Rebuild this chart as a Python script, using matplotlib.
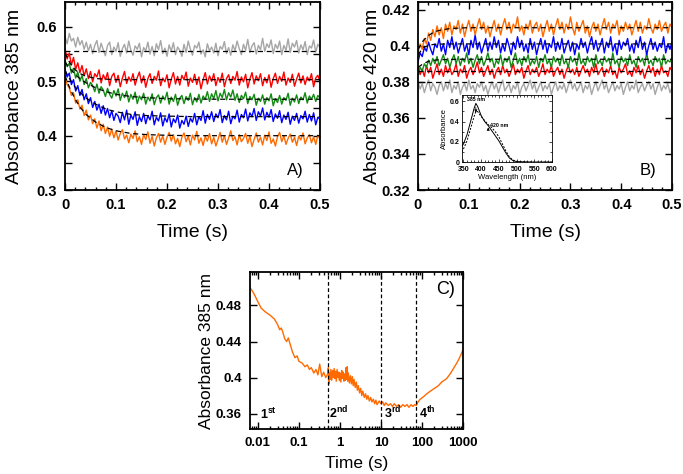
import numpy as np
import matplotlib
matplotlib.use('Agg')
import matplotlib.pyplot as plt
from matplotlib.ticker import MultipleLocator, FuncFormatter, LogLocator

plt.rcParams['font.family'] = ['Liberation Sans', 'DejaVu Sans']
plt.rcParams['mathtext.fontset'] = 'custom'
plt.rcParams['mathtext.rm'] = 'Liberation Sans'
plt.rcParams['mathtext.bf'] = 'Liberation Sans:bold'

# colours of the traces
c_gray = '#a6a6a6'
c_red = '#ff0000'
c_green = '#138a13'
c_blue = '#0000ff'
c_orange = '#ff6a00'

# ---- panel A : absorbance 385 nm, 0 - 0.5 s (equally spaced samples)
gray_a = [0.582, 0.569, 0.588, 0.574, 0.579, 0.563, 0.581, 0.567, 0.575, 0.559,
          0.572, 0.556, 0.568, 0.551, 0.566, 0.575, 0.553, 0.570, 0.558, 0.547,
          0.566, 0.572, 0.549, 0.563, 0.555, 0.571, 0.546, 0.560, 0.568, 0.552,
          0.574, 0.557, 0.548, 0.565, 0.559, 0.570, 0.545, 0.562, 0.556, 0.572,
          0.550, 0.564, 0.547, 0.569, 0.558, 0.575, 0.551, 0.561, 0.546, 0.567,
          0.555, 0.571, 0.549, 0.563, 0.557, 0.546, 0.568, 0.553, 0.574, 0.559,
          0.548, 0.566, 0.561, 0.572, 0.550, 0.558, 0.545, 0.569, 0.556, 0.563,
          0.552, 0.570, 0.547, 0.564, 0.559, 0.573, 0.551, 0.562, 0.548, 0.567,
          0.556, 0.574, 0.560, 0.549, 0.568, 0.557, 0.577, 0.553, 0.565, 0.571,
          0.550, 0.566, 0.558, 0.579, 0.555, 0.569, 0.562, 0.576, 0.551, 0.568,
          0.560, 0.574, 0.549, 0.566, 0.557, 0.578, 0.553, 0.570, 0.563, 0.575,
          0.552, 0.567, 0.558, 0.573, 0.549, 0.565, 0.561, 0.576, 0.554, 0.568, 0.562]
red_a = [0.560, 0.541, 0.552, 0.530, 0.544, 0.522, 0.534, 0.516, 0.529, 0.510,
         0.523, 0.505, 0.518, 0.499, 0.514, 0.508, 0.521, 0.497, 0.512, 0.503,
         0.516, 0.492, 0.509, 0.515, 0.498, 0.511, 0.490, 0.506, 0.518, 0.496,
         0.508, 0.500, 0.514, 0.493, 0.507, 0.517, 0.497, 0.510, 0.489, 0.505,
         0.514, 0.496, 0.509, 0.502, 0.519, 0.492, 0.506, 0.499, 0.512, 0.488,
         0.504, 0.516, 0.495, 0.509, 0.493, 0.511, 0.503, 0.517, 0.491, 0.506,
         0.498, 0.513, 0.494, 0.508, 0.486, 0.503, 0.516, 0.495, 0.510, 0.500,
         0.514, 0.492, 0.507, 0.498, 0.515, 0.490, 0.505, 0.512, 0.496, 0.509,
         0.502, 0.518, 0.493, 0.508, 0.499, 0.513, 0.488, 0.504, 0.516, 0.495,
         0.510, 0.501, 0.514, 0.492, 0.507, 0.497, 0.512, 0.489, 0.505, 0.515,
         0.496, 0.509, 0.500, 0.517, 0.493, 0.506, 0.498, 0.513, 0.491, 0.504,
         0.515, 0.497, 0.510, 0.494, 0.508, 0.501, 0.514, 0.490, 0.506, 0.511, 0.499]
green_a = [0.539, 0.527, 0.533, 0.515, 0.524, 0.506, 0.517, 0.500, 0.511, 0.494,
           0.505, 0.488, 0.498, 0.492, 0.481, 0.495, 0.478, 0.490, 0.484, 0.472,
           0.487, 0.476, 0.469, 0.483, 0.473, 0.486, 0.465, 0.478, 0.470, 0.482,
           0.462, 0.476, 0.467, 0.480, 0.459, 0.473, 0.466, 0.478, 0.458, 0.471,
           0.464, 0.477, 0.457, 0.470, 0.475, 0.460, 0.473, 0.466, 0.480, 0.458,
           0.471, 0.463, 0.476, 0.456, 0.469, 0.474, 0.459, 0.472, 0.465, 0.478,
           0.457, 0.470, 0.462, 0.476, 0.460, 0.473, 0.467, 0.481, 0.463, 0.477,
           0.468, 0.483, 0.464, 0.478, 0.470, 0.485, 0.466, 0.479, 0.471, 0.484,
           0.465, 0.477, 0.461, 0.474, 0.468, 0.480, 0.459, 0.472, 0.466, 0.476,
           0.456, 0.469, 0.463, 0.475, 0.458, 0.470, 0.464, 0.477, 0.455, 0.468,
           0.461, 0.474, 0.458, 0.470, 0.465, 0.478, 0.456, 0.469, 0.462, 0.475,
           0.459, 0.471, 0.466, 0.479, 0.460, 0.473, 0.467, 0.476, 0.463, 0.474, 0.469]
blue_a = [0.522, 0.508, 0.515, 0.494, 0.503, 0.482, 0.492, 0.474, 0.485, 0.466,
          0.477, 0.459, 0.470, 0.452, 0.463, 0.447, 0.458, 0.441, 0.455, 0.438,
          0.450, 0.433, 0.446, 0.428, 0.441, 0.436, 0.424, 0.443, 0.429, 0.447,
          0.421, 0.438, 0.430, 0.444, 0.419, 0.435, 0.426, 0.441, 0.422, 0.437,
          0.429, 0.445, 0.420, 0.434, 0.427, 0.442, 0.418, 0.433, 0.425, 0.440,
          0.416, 0.431, 0.424, 0.438, 0.414, 0.428, 0.421, 0.436, 0.417, 0.432,
          0.425, 0.441, 0.420, 0.435, 0.428, 0.446, 0.423, 0.439, 0.430, 0.444,
          0.426, 0.440, 0.433, 0.448, 0.424, 0.437, 0.429, 0.445, 0.422, 0.436,
          0.431, 0.447, 0.425, 0.439, 0.433, 0.449, 0.427, 0.442, 0.435, 0.450,
          0.428, 0.444, 0.436, 0.451, 0.429, 0.443, 0.434, 0.448, 0.426, 0.440,
          0.432, 0.446, 0.424, 0.438, 0.430, 0.443, 0.421, 0.436, 0.428, 0.441,
          0.423, 0.437, 0.431, 0.445, 0.425, 0.439, 0.427, 0.442, 0.420, 0.434, 0.430]
orange_a = [0.506, 0.494, 0.488, 0.474, 0.479, 0.460, 0.466, 0.449, 0.456, 0.437,
            0.447, 0.429, 0.438, 0.422, 0.431, 0.414, 0.427, 0.409, 0.421, 0.404,
            0.416, 0.399, 0.412, 0.396, 0.409, 0.392, 0.404, 0.411, 0.394, 0.401,
            0.387, 0.403, 0.395, 0.409, 0.389, 0.398, 0.384, 0.402, 0.393, 0.407,
            0.386, 0.399, 0.381, 0.396, 0.404, 0.388, 0.400, 0.384, 0.397, 0.406,
            0.390, 0.402, 0.385, 0.395, 0.380, 0.397, 0.405, 0.389, 0.399, 0.383,
            0.401, 0.392, 0.408, 0.386, 0.396, 0.382, 0.399, 0.390, 0.404, 0.385,
            0.397, 0.381, 0.393, 0.406, 0.388, 0.400, 0.384, 0.396, 0.409, 0.391,
            0.398, 0.383, 0.402, 0.389, 0.395, 0.404, 0.386, 0.399, 0.380, 0.393,
            0.405, 0.388, 0.397, 0.383, 0.401, 0.391, 0.407, 0.386, 0.394, 0.381,
            0.398, 0.406, 0.389, 0.400, 0.384, 0.395, 0.403, 0.388, 0.397, 0.382,
            0.399, 0.392, 0.405, 0.385, 0.396, 0.402, 0.387, 0.398, 0.384, 0.401, 0.394]

# fitted curves (dashed), read at these times
fit_t = [0, 0.01, 0.02, 0.03, 0.04, 0.06, 0.08, 0.1, 0.13, 0.16, 0.2, 0.25, 0.3, 0.4, 0.5]
fit_gray_a = [0.555, 0.555, 0.555, 0.555, 0.555, 0.555, 0.555, 0.555, 0.555, 0.555, 0.555, 0.555, 0.555, 0.555, 0.555]
fit_red_a = [0.552, 0.533, 0.521, 0.514, 0.510, 0.505, 0.504, 0.503, 0.503, 0.503, 0.503, 0.503, 0.503, 0.503, 0.503]
fit_green_a = [0.535, 0.523, 0.513, 0.504, 0.498, 0.488, 0.481, 0.476, 0.472, 0.470, 0.468, 0.4675, 0.467, 0.467, 0.467]
fit_blue_a = [0.520, 0.503, 0.489, 0.479, 0.470, 0.458, 0.449, 0.444, 0.439, 0.437, 0.436, 0.435, 0.435, 0.435, 0.435]
fit_orange_a = [0.510, 0.486, 0.467, 0.452, 0.440, 0.425, 0.415, 0.409, 0.404, 0.402, 0.4007, 0.400, 0.400, 0.400, 0.400]

# ---- panel B : absorbance 420 nm
orange_b = [0.396, 0.401, 0.398, 0.404, 0.401, 0.407, 0.403, 0.409, 0.405, 0.411,
            0.406, 0.410, 0.404, 0.412, 0.408, 0.413, 0.406, 0.411, 0.409, 0.414,
            0.407, 0.412, 0.405, 0.410, 0.414, 0.408, 0.412, 0.406, 0.411, 0.415,
            0.409, 0.413, 0.407, 0.411, 0.405, 0.410, 0.414, 0.408, 0.412, 0.406,
            0.411, 0.415, 0.409, 0.413, 0.407, 0.412, 0.410, 0.416, 0.408, 0.411,
            0.406, 0.412, 0.409, 0.414, 0.407, 0.411, 0.413, 0.408, 0.412, 0.405,
            0.410, 0.414, 0.408, 0.412, 0.406, 0.411, 0.415, 0.409, 0.413, 0.407,
            0.412, 0.409, 0.416, 0.410, 0.406, 0.413, 0.408, 0.411, 0.414, 0.407,
            0.411, 0.405, 0.410, 0.413, 0.408, 0.412, 0.406, 0.411, 0.415, 0.409,
            0.413, 0.407, 0.412, 0.410, 0.414, 0.406, 0.411, 0.408, 0.413, 0.409,
            0.412, 0.406, 0.410, 0.414, 0.408, 0.413, 0.407, 0.411, 0.409, 0.415,
            0.410, 0.407, 0.412, 0.409, 0.414, 0.408, 0.411, 0.413, 0.407, 0.412, 0.410]
blue_b = [0.391, 0.396, 0.394, 0.399, 0.397, 0.402, 0.398, 0.395, 0.401, 0.399,
          0.404, 0.397, 0.401, 0.395, 0.403, 0.399, 0.405, 0.398, 0.402, 0.396,
          0.400, 0.404, 0.397, 0.401, 0.395, 0.403, 0.399, 0.406, 0.398, 0.402,
          0.396, 0.400, 0.404, 0.397, 0.402, 0.398, 0.405, 0.399, 0.403, 0.396,
          0.401, 0.397, 0.404, 0.400, 0.395, 0.402, 0.398, 0.405, 0.399, 0.403,
          0.397, 0.401, 0.396, 0.404, 0.398, 0.402, 0.395, 0.400, 0.404, 0.398,
          0.403, 0.396, 0.401, 0.399, 0.405, 0.397, 0.402, 0.398, 0.404, 0.396,
          0.400, 0.403, 0.397, 0.402, 0.395, 0.401, 0.398, 0.404, 0.399, 0.402,
          0.396, 0.401, 0.405, 0.398, 0.403, 0.397, 0.400, 0.404, 0.396, 0.402,
          0.399, 0.405, 0.397, 0.401, 0.395, 0.403, 0.398, 0.402, 0.400, 0.404,
          0.397, 0.401, 0.396, 0.403, 0.399, 0.405, 0.398, 0.402, 0.395, 0.400,
          0.404, 0.398, 0.402, 0.397, 0.401, 0.399, 0.405, 0.396, 0.401, 0.398, 0.402]
green_b = [0.384, 0.388, 0.386, 0.390, 0.388, 0.392, 0.389, 0.393, 0.390, 0.394,
           0.389, 0.392, 0.395, 0.390, 0.393, 0.388, 0.392, 0.395, 0.390, 0.394,
           0.389, 0.393, 0.391, 0.396, 0.390, 0.393, 0.388, 0.392, 0.395, 0.390,
           0.394, 0.389, 0.392, 0.396, 0.391, 0.393, 0.388, 0.392, 0.390, 0.395,
           0.389, 0.393, 0.391, 0.394, 0.388, 0.392, 0.396, 0.390, 0.393, 0.389,
           0.394, 0.391, 0.395, 0.389, 0.392, 0.390, 0.394, 0.388, 0.393, 0.391,
           0.395, 0.390, 0.392, 0.388, 0.394, 0.391, 0.393, 0.389, 0.395, 0.390,
           0.392, 0.388, 0.394, 0.391, 0.393, 0.389, 0.396, 0.390, 0.392, 0.389,
           0.394, 0.391, 0.393, 0.388, 0.395, 0.390, 0.392, 0.389, 0.394, 0.391,
           0.393, 0.389, 0.396, 0.390, 0.392, 0.388, 0.394, 0.391, 0.393, 0.389,
           0.395, 0.390, 0.392, 0.388, 0.394, 0.391, 0.393, 0.389, 0.396, 0.390,
           0.392, 0.389, 0.394, 0.391, 0.393, 0.388, 0.395, 0.390, 0.392, 0.391, 0.393]
red_b = [0.388, 0.384, 0.387, 0.383, 0.389, 0.385, 0.388, 0.382, 0.386, 0.390,
         0.384, 0.387, 0.383, 0.389, 0.385, 0.388, 0.384, 0.386, 0.390, 0.383,
         0.387, 0.385, 0.389, 0.382, 0.386, 0.388, 0.384, 0.387, 0.391, 0.385,
         0.388, 0.383, 0.386, 0.389, 0.384, 0.387, 0.382, 0.386, 0.388, 0.384,
         0.389, 0.385, 0.387, 0.383, 0.386, 0.390, 0.384, 0.387, 0.385, 0.388,
         0.382, 0.386, 0.389, 0.384, 0.387, 0.385, 0.388, 0.383, 0.386, 0.390,
         0.384, 0.387, 0.385, 0.389, 0.383, 0.386, 0.388, 0.384, 0.387, 0.382,
         0.386, 0.389, 0.385, 0.387, 0.384, 0.388, 0.383, 0.386, 0.389, 0.385,
         0.387, 0.383, 0.388, 0.385, 0.390, 0.384, 0.386, 0.388, 0.383, 0.387,
         0.385, 0.389, 0.384, 0.386, 0.382, 0.388, 0.385, 0.387, 0.390, 0.384,
         0.386, 0.383, 0.388, 0.385, 0.389, 0.384, 0.387, 0.382, 0.386, 0.389,
         0.385, 0.388, 0.383, 0.387, 0.384, 0.389, 0.385, 0.386, 0.383, 0.388, 0.386]
gray_b = [0.380, 0.376, 0.379, 0.374, 0.378, 0.381, 0.375, 0.379, 0.377, 0.373,
          0.378, 0.380, 0.375, 0.379, 0.376, 0.381, 0.374, 0.378, 0.376, 0.380,
          0.373, 0.377, 0.379, 0.375, 0.381, 0.376, 0.378, 0.374, 0.379, 0.377,
          0.380, 0.375, 0.378, 0.373, 0.377, 0.380, 0.376, 0.379, 0.374, 0.378,
          0.381, 0.375, 0.377, 0.379, 0.374, 0.378, 0.376, 0.380, 0.373, 0.377,
          0.379, 0.375, 0.378, 0.381, 0.376, 0.379, 0.374, 0.377, 0.380, 0.375,
          0.378, 0.376, 0.379, 0.373, 0.377, 0.380, 0.375, 0.378, 0.376, 0.379,
          0.374, 0.378, 0.381, 0.376, 0.379, 0.375, 0.377, 0.380, 0.374, 0.378,
          0.376, 0.379, 0.373, 0.377, 0.380, 0.375, 0.378, 0.381, 0.376, 0.379,
          0.374, 0.377, 0.380, 0.375, 0.378, 0.376, 0.379, 0.373, 0.377, 0.380,
          0.375, 0.378, 0.376, 0.381, 0.374, 0.377, 0.379, 0.375, 0.378, 0.380,
          0.376, 0.379, 0.373, 0.377, 0.380, 0.375, 0.378, 0.376, 0.379, 0.374, 0.377]

fit_orange_b = [0.398, 0.4027, 0.4056, 0.4073, 0.4084, 0.4094, 0.4098, 0.410, 0.410, 0.410, 0.410, 0.410, 0.410, 0.410, 0.410]
fit_blue_b = [0.395, 0.3988, 0.4002, 0.4007, 0.4009, 0.401, 0.401, 0.401, 0.401, 0.401, 0.401, 0.401, 0.401, 0.401, 0.401]
fit_green_b = [0.388, 0.390, 0.3913, 0.3919, 0.3922, 0.3924, 0.3925, 0.3925, 0.3925, 0.3925, 0.3925, 0.3925, 0.3925, 0.3925, 0.3925]
fit_red_b = [0.386, 0.386, 0.386, 0.386, 0.386, 0.386, 0.386, 0.386, 0.386, 0.386, 0.386, 0.386, 0.386, 0.386, 0.386]
fit_gray_b = [0.380, 0.380, 0.380, 0.380, 0.380, 0.380, 0.380, 0.380, 0.380, 0.380, 0.380, 0.380, 0.380, 0.380, 0.380]

# inset spectra
wl = [345, 350, 360, 370, 380, 385, 390, 400, 410, 420, 430, 440, 450, 460, 470, 480, 490, 500, 520, 550, 600]
spec_solid = [0.15, 0.18, 0.27, 0.40, 0.53, 0.58, 0.55, 0.46, 0.40, 0.36, 0.31, 0.26, 0.21, 0.15, 0.09, 0.04, 0.015, 0.005, 0.002, 0.0, 0.0]
spec_dash = [0.10, 0.13, 0.21, 0.33, 0.45, 0.50, 0.50, 0.45, 0.41, 0.37, 0.34, 0.30, 0.25, 0.18, 0.11, 0.05, 0.02, 0.008, 0.003, 0.0, 0.0]

# ---- panel C : long time course (log time)
c_time = [0.0064, 0.008, 0.01, 0.012, 0.015, 0.02, 0.025, 0.03, 0.034, 0.037, 0.04, 0.045, 0.05, 0.055, 0.06, 0.07,
          0.08, 0.09, 0.1, 0.12, 0.14, 0.16, 0.18, 0.2, 0.23, 0.26, 0.29, 0.32, 0.36, 0.4, 0.45,
          0.5, 0.52, 0.54, 0.56, 0.58, 0.6, 0.63, 0.66, 0.69, 0.72, 0.75, 0.78, 0.81, 0.85, 0.89, 0.93, 0.97,
          1.0, 1.05, 1.1, 1.15, 1.2, 1.25, 1.3, 1.35, 1.4, 1.45, 1.5, 1.55, 1.6, 1.7, 1.8, 1.9, 2.0, 2.1, 2.2,
          2.35, 2.5, 2.65, 2.8, 3.0, 3.2, 3.4, 3.6, 3.9, 4.2, 4.5, 4.8, 5.2, 5.6, 6.0, 6.5, 7.0, 7.5, 8.0, 9.0, 10, 11,
          12, 13, 15, 17, 19, 21, 24, 27, 30, 34, 38, 43, 48, 54, 60, 66, 72,
          80, 90, 110, 130, 160, 200, 250, 300, 350, 400, 500, 600, 700, 800, 900, 1000]
c_abs = [0.500, 0.493, 0.484, 0.477, 0.473, 0.469, 0.465, 0.459, 0.453, 0.455, 0.451, 0.443, 0.440, 0.444, 0.438, 0.428,
         0.422, 0.424, 0.418, 0.416, 0.412, 0.414, 0.409, 0.411, 0.405, 0.409, 0.403, 0.415, 0.401, 0.406, 0.400,
         0.404, 0.411, 0.393, 0.405, 0.398, 0.409, 0.397, 0.408, 0.400, 0.410, 0.399, 0.407, 0.396, 0.409, 0.400, 0.406, 0.397,
         0.405, 0.395, 0.408, 0.399, 0.406, 0.396, 0.404, 0.397, 0.411, 0.398, 0.412, 0.396, 0.405, 0.394, 0.402, 0.393, 0.401, 0.391, 0.398,
         0.389, 0.395, 0.386, 0.391, 0.383, 0.388, 0.380, 0.385, 0.378, 0.382, 0.376, 0.380, 0.374, 0.378, 0.373, 0.376, 0.371, 0.375, 0.370, 0.374, 0.371, 0.373,
         0.369, 0.372, 0.369, 0.371, 0.368, 0.371, 0.368, 0.370, 0.367, 0.370, 0.368, 0.370, 0.367, 0.370, 0.368, 0.370, 0.369,
         0.373, 0.376, 0.379, 0.382, 0.385, 0.388, 0.391, 0.395, 0.397, 0.399, 0.405, 0.411, 0.416, 0.421, 0.426, 0.431]
phase_bounds = [0.5, 10, 70]
phase_labels = [r'$\mathbf{1^{st}}$', r'$\mathbf{2^{nd}}$', r'$\mathbf{3^{rd}}$', r'$\mathbf{4^{th}}$']
phase_label_x = [0.0115, 0.55, 11.5, 82]

fmt = FuncFormatter(lambda v, p: '%g' % round(v, 4))


def style_axes(ax, size):
    ax.tick_params(which='both', direction='in', top=True, right=True, width=1.0)
    ax.tick_params(which='major', length=5, pad=6, labelsize=size)
    ax.tick_params(which='minor', length=2.5)
    for lab in ax.get_xticklabels() + ax.get_yticklabels():
        lab.set_fontweight('bold')
    for s in ax.spines.values():
        s.set_linewidth(1.3)


def fit_line(ax, x, y):
    ax.plot(x, y, color='black', lw=0.9, dashes=(4, 3), zorder=5)


fig = plt.figure(figsize=(6.83, 4.74), dpi=100)

# panel A
ax_a = fig.add_axes([0.0952, 0.599, 0.3733, 0.397])
for vals, col in [(gray_a, c_gray), (red_a, c_red), (green_a, c_green), (blue_a, c_blue), (orange_a, c_orange)]:
    ax_a.plot(np.linspace(0, 0.5, len(vals)), vals, color=col, lw=1.0)
for vals in [fit_gray_a, fit_red_a, fit_green_a, fit_blue_a, fit_orange_a]:
    fit_line(ax_a, fit_t, vals)
ax_a.set_xlim(0, 0.5)
ax_a.set_ylim(0.3, 0.646)
ax_a.xaxis.set_major_locator(MultipleLocator(0.1))
ax_a.xaxis.set_minor_locator(MultipleLocator(0.02))
ax_a.yaxis.set_major_locator(MultipleLocator(0.1))
ax_a.yaxis.set_minor_locator(MultipleLocator(0.05))
ax_a.xaxis.set_major_formatter(fmt)
ax_a.yaxis.set_major_formatter(fmt)
style_axes(ax_a, 10.5)
ax_a.tick_params(axis='y', which='minor', length=5)
ax_a.set_xlabel('Time (s)', fontsize=14, labelpad=8)
ax_a.set_ylabel('Absorbance 385 nm', fontsize=14, labelpad=9.5)
ax_a.text(0.935, 0.064, 'A)', transform=ax_a.transAxes, ha='right', va='bottom', fontsize=12)

# panel B
ax_b = fig.add_axes([0.612, 0.599, 0.372, 0.397])
for vals, col in [(gray_b, c_gray), (red_b, c_red), (green_b, c_green), (blue_b, c_blue), (orange_b, c_orange)]:
    ax_b.plot(np.linspace(0, 0.5, len(vals)), vals, color=col, lw=1.0)
for vals in [fit_gray_b, fit_red_b, fit_green_b, fit_blue_b, fit_orange_b]:
    fit_line(ax_b, fit_t, vals)
ax_b.set_xlim(0, 0.5)
ax_b.set_ylim(0.32, 0.4243)
ax_b.xaxis.set_major_locator(MultipleLocator(0.1))
ax_b.xaxis.set_minor_locator(MultipleLocator(0.02))
ax_b.yaxis.set_major_locator(MultipleLocator(0.02))
ax_b.xaxis.set_major_formatter(fmt)
ax_b.yaxis.set_major_formatter(fmt)
style_axes(ax_b, 10.5)
ax_b.set_xlabel('Time (s)', fontsize=14, labelpad=8)
ax_b.set_ylabel('Absorbance 420 nm', fontsize=14, labelpad=0)
ax_b.text(0.937, 0.064, 'B)', transform=ax_b.transAxes, ha='right', va='bottom', fontsize=12)

# inset in B
ax_in = fig.add_axes([0.676, 0.658, 0.132, 0.141])
ax_in.plot(wl, spec_solid, color='black', lw=0.7)
ax_in.plot(wl, spec_dash, color='black', lw=0.7, dashes=(2, 1.5))
ax_in.set_xlim(345, 600)
ax_in.set_ylim(0, 0.66)
ax_in.xaxis.set_major_locator(MultipleLocator(50))
ax_in.xaxis.set_minor_locator(MultipleLocator(10))
ax_in.yaxis.set_major_locator(MultipleLocator(0.2))
ax_in.yaxis.set_minor_locator(MultipleLocator(0.1))
ax_in.xaxis.set_major_formatter(fmt)
ax_in.yaxis.set_major_formatter(fmt)
ax_in.tick_params(which='both', direction='in', top=True, right=True, width=0.5)
ax_in.tick_params(which='major', length=2.5, pad=1.5, labelsize=5)
ax_in.tick_params(axis='x', which='major', pad=3)
ax_in.tick_params(which='minor', length=1.2)
for lab in ax_in.get_xticklabels() + ax_in.get_yticklabels():
    lab.set_fontweight('bold')
for s in ax_in.spines.values():
    s.set_linewidth(0.6)
ax_in.set_xlabel('Wavelength (nm)', fontsize=5.5, labelpad=0.3)
ax_in.set_ylabel('Absorbance', fontsize=5.5, labelpad=1)
ax_in.text(385, 0.59, '385 nm', fontsize=3.8, fontweight='bold', ha='center', va='bottom')
ax_in.annotate('', xy=(385, 0.46), xytext=(385, 0.57),
               arrowprops=dict(arrowstyle='-|>', color='black', lw=0.5, mutation_scale=4))
ax_in.annotate('', xy=(420, 0.37), xytext=(420, 0.29),
               arrowprops=dict(arrowstyle='-|>', color='black', lw=0.5, mutation_scale=4))
ax_in.text(424, 0.36, '420 nm', fontsize=3.8, fontweight='bold', ha='left', va='center')

# panel C
ax_c = fig.add_axes([0.366, 0.095, 0.312, 0.331])
ax_c.plot(c_time, c_abs, color=c_orange, lw=1.0)
for xb in phase_bounds:
    ax_c.axvline(xb, color='black', lw=0.9, dashes=(3, 2))
for xl, lab in zip(phase_label_x, phase_labels):
    ax_c.text(xl, 0.3545, lab, fontsize=9, ha='left', va='baseline')
ax_c.set_xscale('log')
ax_c.set_xlim(0.0064, 1000)
ax_c.set_ylim(0.343, 0.517)
ax_c.yaxis.set_major_locator(MultipleLocator(0.04))
ax_c.xaxis.set_major_locator(LogLocator(base=10))
ax_c.xaxis.set_minor_locator(LogLocator(base=10, subs=np.arange(2, 10)))
ax_c.xaxis.set_major_formatter(fmt)
ax_c.yaxis.set_major_formatter(fmt)
style_axes(ax_c, 9.5)
ax_c.set_xlabel('Time (s)', fontsize=12.5, labelpad=5)
ax_c.set_ylabel('Absorbance 385 nm', fontsize=12.5, labelpad=1)
ax_c.text(0.961, 0.94, 'C)', transform=ax_c.transAxes, ha='right', va='top', fontsize=13)

plt.savefig('out.png', dpi=100)
